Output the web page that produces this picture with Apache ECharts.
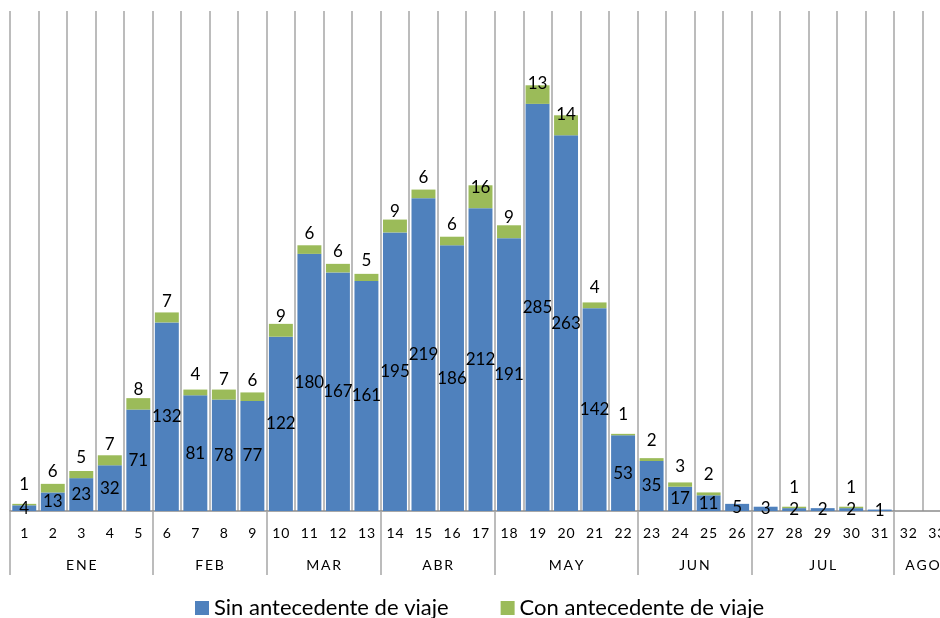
<!DOCTYPE html>
<html>
<head>
<meta charset="utf-8">
<script src="https://cdn.jsdelivr.net/npm/echarts@6/dist/echarts.min.js"></script>
<style>html,body{margin:0;padding:0;background:#fff;overflow:hidden;width:940px;height:618px;}#c{width:951px;height:618px;}</style>
</head>
<body>
<div id="c"></div>
<script>
var weeks = ['1','2','3','4','5','6','7','8','9','10','11','12','13','14','15','16','17','18','19','20','21','22','23','24','25','26','27','28','29','30','31','32','33'];
var sinViaje = [4,13,23,32,71,132,81,78,77,122,180,167,161,195,219,186,212,191,285,263,142,53,35,17,11,5,3,2,2,2,1,0,0];
var conViaje = [1,6,5,7,8,7,4,7,6,9,6,6,5,9,6,6,16,9,13,14,4,1,2,3,2,0,0,1,0,1,0,0,0];
var months = ['ENE','FEB','MAR','ABR','MAY','JUN','JUL','AGO'];
var monthWeekCounts = [5,4,4,4,5,4,5,2];

var boundaries = [0];
var centers = [];
monthWeekCounts.forEach(function (n) {
  var start = boundaries[boundaries.length - 1];
  centers.push(start + n / 2);
  boundaries.push(start + n);
});
function spaced(s, sep) { return String(s).split('').join(sep); }

var chart = echarts.init(document.getElementById('c'));
var FONT = 'Lato';
chart.setOption({
  animation: false,
  textStyle: { fontFamily: FONT },
  grid: { left: 10, top: 11, right: 0, bottom: 107, containLabel: false },
  legend: {
    left: 195, top: 597, padding: 0, itemWidth: 14, itemHeight: 14, itemGap: 52,
    icon: 'rect',
    textStyle: { fontFamily: FONT, fontSize: 22, color: '#000' },
    data: ['Sin antecedente de viaje', 'Con antecedente de viaje']
  },
  xAxis: [{
    type: 'category', data: weeks, position: 'bottom',
    axisLine: { lineStyle: { color: '#8c8c8c', width: 1.5 } },
    axisTick: { show: false },
    axisLabel: { interval: 0, margin: 15, fontSize: 14, color: '#000', fontFamily: FONT,
      formatter: function (v) { return spaced(v, '\u200A'); } },
    splitLine: { show: true, interval: 0, lineStyle: { color: '#a6a6a6', width: 1.5 } }
  }, {
    type: 'value', min: 0, max: weeks.length, position: 'bottom', offset: 0,
    axisLine: { show: false },
    splitLine: { show: false },
    axisTick: { show: true, customValues: boundaries, length: 64, lineStyle: { color: '#a6a6a6', width: 1.5 } },
    axisLabel: {
      customValues: centers, margin: 47, fontSize: 14, color: '#000', fontFamily: FONT,
      formatter: function (v) {
        for (var i = 0; i < centers.length; i++) if (Math.abs(centers[i] - v) < 1e-6) return spaced(months[i], '\u2009');
        return '';
      }
    }
  }],
  yAxis: { type: 'value', min: 0, max: 350, show: false, splitLine: { show: false } },
  series: [{
    name: 'Sin antecedente de viaje', type: 'bar', stack: 'a', data: sinViaje,
    barCategoryGap: '16%',
    itemStyle: { color: '#4f81bd' },
    label: { show: true, position: 'inside', color: '#000', fontSize: 17, fontFamily: FONT,
      formatter: function (p) { return p.value ? p.value : ''; } }
  }, {
    name: 'Con antecedente de viaje', type: 'bar', stack: 'a', data: conViaje,
    barCategoryGap: '16%',
    itemStyle: { color: '#9bbb59' },
    label: { show: true, position: 'insideBottom', distance: 12, color: '#000', fontSize: 17, fontFamily: FONT,
      formatter: function (p) { return p.value ? p.value : ''; } }
  }]
});
</script>
</body>
</html>
